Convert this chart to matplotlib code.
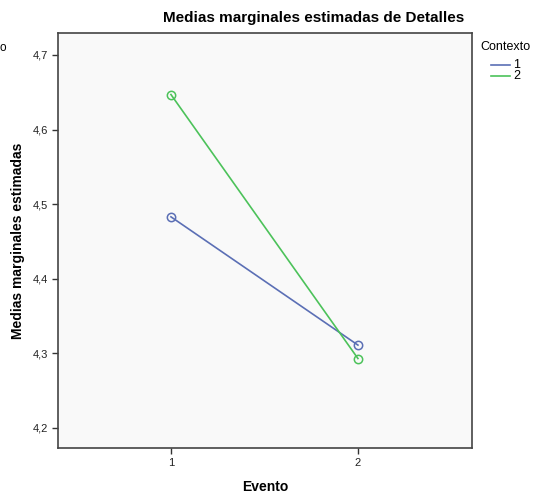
import matplotlib.pyplot as plt
from matplotlib.lines import Line2D

plt.rcParams['font.family'] = ['Liberation Sans', 'DejaVu Sans']

evento = [1, 2]
contexto_1 = [4.483, 4.311]
contexto_2 = [4.647, 4.293]
yticks = [4.2, 4.3, 4.4, 4.5, 4.6, 4.7]
ytick_labels = ['4,2', '4,3', '4,4', '4,5', '4,6', '4,7']

blue = '#5b6fb5'
green = '#4cc25a'

fig = plt.figure(figsize=(5.36, 4.95), dpi=100)
W, H = 536, 495
ax = fig.add_axes([58 / W, 1 - 448 / H, (472 - 58) / W, (448 - 33) / H])
ax.set_facecolor('#f9f9f9')

ax.plot(evento, contexto_1, color=blue, lw=1.2, marker='o', ms=6, mfc='none', mew=1.1, label='1')
ax.plot(evento, contexto_2, color=green, lw=1.2, marker='o', ms=6, mfc='none', mew=1.1, label='2')

ax.set_xlim(0.396, 2.61)
ax.set_ylim(4.173, 4.7295)
ax.set_xticks(evento)
ax.set_xticklabels(['1', '2'])
ax.set_yticks(yticks)
ax.set_yticklabels(ytick_labels)
ax.tick_params(labelsize=8, length=4, width=1, color='#333333', labelcolor='#222222', pad=3)
for s in ax.spines.values():
    s.set_color('#444444')
    s.set_linewidth(1.2)

ax.set_xlabel('Evento', fontsize=10, fontweight='bold', labelpad=9)
ax.set_ylabel('Medias marginales estimadas', fontsize=10, fontweight='bold', labelpad=6)
fig.text(314 / W, 1 - 18 / H, 'Medias marginales estimadas de Detalles', ha='center', va='center',
         fontsize=11, fontweight='bold')

# legend
fig.text(480 / W, 1 - 47 / H, 'Contexto', fontsize=9, va='center', ha='left')
for i, (c, lab) in enumerate([(blue, '1'), (green, '2')]):
    y = 1 - (65 + i * 11) / H
    fig.add_artist(Line2D([491 / W, 510 / W], [y, y], color=c, lw=1.2))
    fig.text(513 / W, y, lab, fontsize=9, va='center', ha='left')

# fragment of text at left edge
fig.text(0, 1 - 48 / H, 'o', fontsize=8.5, va='center', ha='left')

fig.savefig('out.png', dpi=100)
